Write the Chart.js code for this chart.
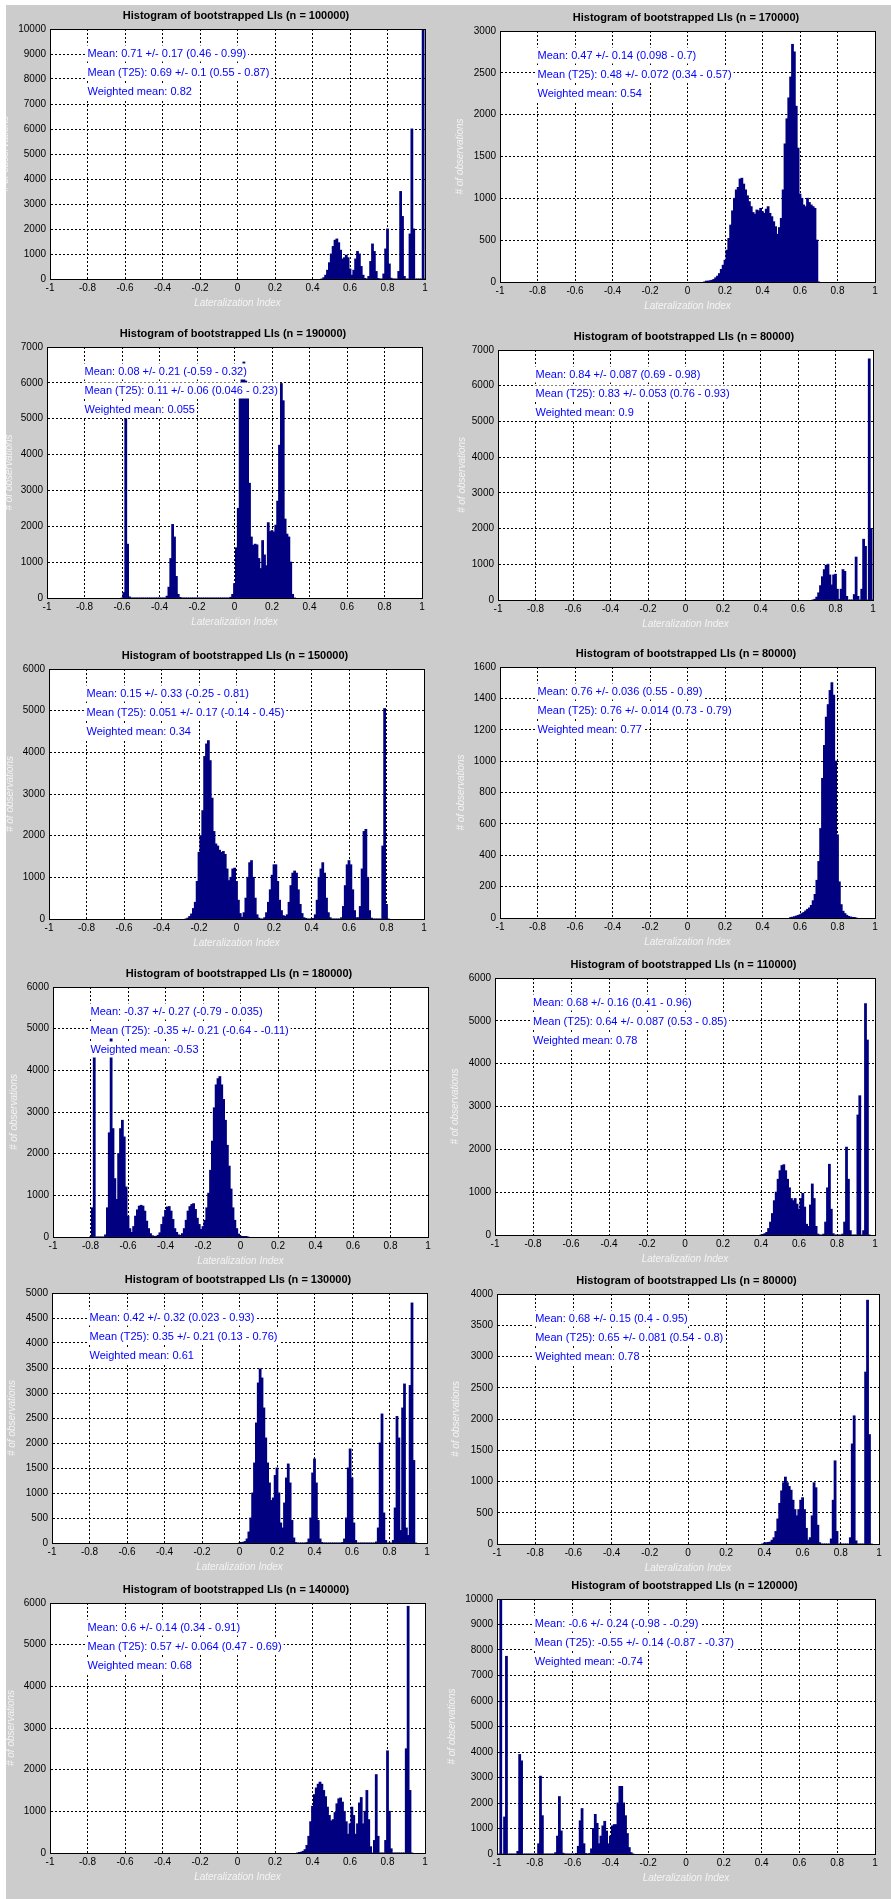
<!DOCTYPE html>
<html>
<head>
<meta charset="utf-8">
<script src="https://cdn.jsdelivr.net/npm/chart.js@4.4.1/dist/chart.umd.min.js"></script>
<style>
  html, body { margin: 0; padding: 0; background: #cccccc; }
  body { width: 891px; height: 1899px; position: relative; overflow: hidden; }
  canvas { position: absolute; }
  .edge { position: absolute; background: #ffffff; z-index: 5; }
</style>
</head>
<body>
<div class="edge" style="left:0;top:0;width:6px;height:1899px"></div>
<div class="edge" style="left:0;top:0;width:891px;height:5px"></div>
<script>
// ---- shared axis definitions ----
const xTickValues = [-1, -0.8, -0.6, -0.4, -0.2, 0, 0.2, 0.4, 0.6, 0.8, 1];
const xTickLabels = ['-1', '-0.8', '-0.6', '-0.4', '-0.2', '0', '0.2', '0.4', '0.6', '0.8', '1'];
const xAxisTitle = 'Lateralization Index';
const yAxisTitle = '# of observations';
const BIN = 0.01;

// ---- panel titles and summary lines ----
const sampleSizes = [100000, 170000, 190000, 80000, 150000, 80000, 180000, 110000, 130000, 80000, 140000, 120000];
const meanLines = [
  'Mean: 0.71 +/- 0.17 (0.46 - 0.99)', 'Mean: 0.47 +/- 0.14 (0.098 - 0.7)',
  'Mean: 0.08 +/- 0.21 (-0.59 - 0.32)', 'Mean: 0.84 +/- 0.087 (0.69 - 0.98)',
  'Mean: 0.15 +/- 0.33 (-0.25 - 0.81)', 'Mean: 0.76 +/- 0.036 (0.55 - 0.89)',
  'Mean: -0.37 +/- 0.27 (-0.79 - 0.035)', 'Mean: 0.68 +/- 0.16 (0.41 - 0.96)',
  'Mean: 0.42 +/- 0.32 (0.023 - 0.93)', 'Mean: 0.68 +/- 0.15 (0.4 - 0.95)',
  'Mean: 0.6 +/- 0.14 (0.34 - 0.91)', 'Mean: -0.6 +/- 0.24 (-0.98 - -0.29)'
];
const trimmedLines = [
  'Mean (T25): 0.69 +/- 0.1 (0.55 - 0.87)', 'Mean (T25): 0.48 +/- 0.072 (0.34 - 0.57)',
  'Mean (T25): 0.11 +/- 0.06 (0.046 - 0.23)', 'Mean (T25): 0.83 +/- 0.053 (0.76 - 0.93)',
  'Mean (T25): 0.051 +/- 0.17 (-0.14 - 0.45)', 'Mean (T25): 0.76 +/- 0.014 (0.73 - 0.79)',
  'Mean (T25): -0.35 +/- 0.21 (-0.64 - -0.11)', 'Mean (T25): 0.64 +/- 0.087 (0.53 - 0.85)',
  'Mean (T25): 0.35 +/- 0.21 (0.13 - 0.76)', 'Mean (T25): 0.65 +/- 0.081 (0.54 - 0.8)',
  'Mean (T25): 0.57 +/- 0.064 (0.47 - 0.69)', 'Mean (T25): -0.55 +/- 0.14 (-0.87 - -0.37)'
];
const weightedLines = [
  'Weighted mean: 0.82', 'Weighted mean: 0.54', 'Weighted mean: 0.055', 'Weighted mean: 0.9',
  'Weighted mean: 0.34', 'Weighted mean: 0.77', 'Weighted mean: -0.53', 'Weighted mean: 0.78',
  'Weighted mean: 0.61', 'Weighted mean: 0.78', 'Weighted mean: 0.68', 'Weighted mean: -0.74'
];

// ---- y tick labels per panel ----
const yTicks01 = [0, 1000, 2000, 3000, 4000, 5000, 6000, 7000, 8000, 9000, 10000];
const yTicks02 = [0, 500, 1000, 1500, 2000, 2500, 3000];
const yTicks03 = [0, 1000, 2000, 3000, 4000, 5000, 6000, 7000];
const yTicks04 = [0, 1000, 2000, 3000, 4000, 5000, 6000, 7000];
const yTicks05 = [0, 1000, 2000, 3000, 4000, 5000, 6000];
const yTicks06 = [0, 200, 400, 600, 800, 1000, 1200, 1400, 1600];
const yTicks07 = [0, 1000, 2000, 3000, 4000, 5000, 6000];
const yTicks08 = [0, 1000, 2000, 3000, 4000, 5000, 6000];
const yTicks09 = [0, 500, 1000, 1500, 2000, 2500, 3000, 3500, 4000, 4500, 5000];
const yTicks10 = [0, 500, 1000, 1500, 2000, 2500, 3000, 3500, 4000];
const yTicks11 = [0, 1000, 2000, 3000, 4000, 5000, 6000];
const yTicks12 = [0, 1000, 2000, 3000, 4000, 5000, 6000, 7000, 8000, 9000, 10000];

// ---- histogram counts (bin width 0.01, first bin centre given by start) ----
const start01 = 0.45;
const counts01 = [0,50,150,350,650,1000,1300,1550,1600,1450,
  1150,800,850,950,850,400,150,350,800,1100,
  1000,500,150,20,0,100,700,1400,1100,300,
  20,0,0,200,1200,2000,600,30,0,0,
  0,300,3500,2500,100,0,0,1800,6000,2000,
  0,0,0,0,10000,0];

const start02 = 0.09;
const counts02 = [0,10,10,15,20,30,50,70,100,150,
  200,260,380,520,680,850,1000,1100,1130,1230,
  1240,1170,1100,1030,960,900,830,810,860,850,
  880,840,820,870,900,820,780,720,660,570,
  650,760,1100,1650,1950,2200,2450,2840,2750,2100,
  1600,1050,1000,920,900,1000,950,920,900,880,
  500,0];

const start03 = -0.60;
const counts03 = [0,150,5000,1500,30,
  0,0,0,0,0,0,0,0,0,0,0,0,0,0,0,0,0,0,0,
  50,300,1100,2050,1700,600,100,10,
  0,0,0,0,0,0,0,0,0,0,0,0,0,0,0,0,0,0,0,0,0,0,0,0,0,0,
  20,100,400,1400,2500,
  5600,6400,6580,6050,5700,3200,1700,1470,1500,1480,
  1100,820,1600,1200,900,2100,1850,1880,1840,2030,
  2700,4260,5980,5500,2200,1780,1700,1000,100,0];

const start04 = 0.68;
const counts04 = [0,20,80,200,400,650,850,970,1000,700,
  420,700,720,300,20,300,850,800,100,0,
  0,0,150,1200,100,0,300,1700,1500,0,
  6750,2000,0];

const start05 = -0.27;
const counts05 = [0,20,60,120,250,400,900,1600,2000,2600,
  3900,4200,4280,3800,2900,2100,1800,1750,1650,1600,
  1620,1550,1200,920,1000,1200,1220,900,450,130,
  40,150,500,1000,1350,1400,1000,500,100,20,
  0,0,30,150,400,700,1050,1300,1300,900,
  450,200,80,60,100,400,800,1100,1150,1100,
  700,350,130,30,10,0,0,0,10,100,
  450,1000,1200,1350,1100,500,150,30,0,0,
  0,0,0,30,300,800,1300,1400,1300,700,
  200,30,30,300,1200,2100,2150,1000,200,20,
  0,0,0,0,0,1750,5050,350,0];

const start06 = 0.55;
const counts06 = [3,5,8,12,16,21,28,35,45,55,
  64,80,110,150,240,360,570,890,1100,1280,
  1360,1450,1500,1420,1000,530,230,85,43,28,
  17,10,6,4,2,0];

const start07 = -0.80;
const counts07 = [0,700,4500,0,0,0,0,0,50,
  700,2500,4900,2600,1400,900,2000,2600,2800,2400,
  1200,500,200,110,250,500,650,740,760,740,
  620,380,200,80,30,16,15,40,100,300,
  480,640,720,730,620,420,200,110,50,40,
  80,200,400,620,730,780,800,660,450,300,
  180,250,400,700,1050,1600,2300,3100,3650,3800,
  3850,3650,3300,2800,2200,1700,1150,700,400,200,
  70,20,10,5,3,0];

const start08 = 0.40;
const counts08 = [0,10,30,60,150,300,500,800,1000,1300,
  1500,1620,1640,1500,1300,1100,850,800,850,720,
  600,850,970,650,250,200,700,1190,850,200,
  20,0,0,20,300,1100,1650,600,30,0,
  0,0,0,20,300,2050,1300,100,0,0,
  0,2800,3250,0,100,5400,4550,0];

const start09 = 0.00;
const counts09 = [0,5,15,30,80,220,500,1000,1600,2400,
  3200,3480,3300,2700,2100,1600,1200,850,900,1350,
  1500,1000,400,300,800,1300,1580,1200,450,100,
  10,0,0,0,0,0,10,80,500,1400,
  1680,1200,450,80,10,0,0,0,0,0,
  0,0,0,0,0,10,80,500,1500,1880,
  1300,400,50,0,0,0,0,0,0,0,
  0,0,0,20,300,2000,2580,600,50,0,
  0,0,50,700,2530,2100,250,2700,3180,300,
  150,3150,4800,1650,0];

const start10 = 0.39;
const counts10 = [0,15,20,25,30,60,100,200,400,650,
  850,980,1070,980,920,860,700,550,450,550,
  700,740,550,250,60,100,450,980,900,300,
  20,0,0,0,0,0,80,700,1330,200,
  0,0,0,0,0,0,100,1600,2050,50,
  0,0,0,0,2750,3900,1750,0];

const start11 = 0.32;
const counts11 = [0,10,20,40,80,180,400,750,1120,1400,
  1560,1650,1700,1650,1500,1350,1100,900,770,800,
  970,1180,1300,1320,1220,1000,750,450,700,1100,
  900,450,700,1200,1330,700,1000,1500,800,150,
  0,300,1880,400,0,0,0,300,2450,1000,
  100,0,0,0,0,0,0,0,2500,5920,
  1500,0];

const start12 = -0.99;
const counts12 = [0,10000,0,1450,7750,0,0,0,0,0,
  100,3900,3650,0,0,0,0,0,0,0,
  0,400,3050,1500,0,0,0,0,0,0,
  50,700,2250,900,30,0,0,0,0,0,
  0,20,300,1300,1780,400,20,0,20,200,
  1000,1550,1200,400,700,1100,1280,900,400,700,
  1100,1150,1150,2000,2650,2650,2000,1500,800,250,
  50,0];

const starts = [start01, start02, start03, start04, start05, start06, start07, start08, start09, start10, start11, start12];
const counts = [counts01, counts02, counts03, counts04, counts05, counts06, counts07, counts08, counts09, counts10, counts11, counts12];
const yTicks = [yTicks01, yTicks02, yTicks03, yTicks04, yTicks05, yTicks06, yTicks07, yTicks08, yTicks09, yTicks10, yTicks11, yTicks12];

// ---- page layout: plot box of each axes in page pixels ----
const frames = [
  { colX: 0,   colW: 445, L: 50,  T: 29,   R: 425, B: 279,  yl: 45 },
  { colX: 445, colW: 446, L: 500, T: 31,   R: 875, B: 282,  yl: 40 },
  { colX: 0,   colW: 445, L: 47,  T: 347,  R: 422, B: 598,  yl: 38 },
  { colX: 445, colW: 446, L: 498, T: 350,  R: 873, B: 600,  yl: 36 },
  { colX: 0,   colW: 445, L: 49,  T: 669,  R: 424, B: 919,  yl: 39 },
  { colX: 445, colW: 446, L: 500, T: 667,  R: 875, B: 918,  yl: 39 },
  { colX: 0,   colW: 445, L: 53,  T: 987,  R: 428, B: 1237, yl: 39 },
  { colX: 445, colW: 446, L: 495, T: 978,  R: 875, B: 1235, yl: 40 },
  { colX: 0,   colW: 445, L: 52,  T: 1293, R: 427, B: 1543, yl: 40 },
  { colX: 445, colW: 446, L: 497, T: 1294, R: 879, B: 1544, yl: 41 },
  { colX: 0,   colW: 445, L: 50,  T: 1603, R: 425, B: 1853, yl: 39 },
  { colX: 445, colW: 446, L: 497, T: 1599, R: 875, B: 1854, yl: 45 }
];

const FONT = "'Liberation Sans', Arial, Helvetica, sans-serif";
const NAVY = '#000080';
const YW = 40, XH = 20, PAD_T = 40, PAD_B = 40;

function binPoints(start, values) {
  return values.map((c, i) => ({ x: Math.round((start + i * BIN) * 100) / 100, y: c }));
}

// White axes background, summary text boxes and labels
const panelDecor = {
  id: 'panelDecor',
  beforeDraw(chart) {
    const { ctx, chartArea: a } = chart;
    ctx.save();
    ctx.fillStyle = '#ffffff';
    ctx.fillRect(a.left, a.top, a.right - a.left, a.bottom - a.top);
    ctx.restore();
  },
  afterDatasetsDraw(chart, args, opts) {
    const k = opts.panel;
    const { ctx, chartArea: a, scales: { x } } = chart;
    const tx = x.getPixelForValue(-0.8);
    const lines = [meanLines[k], trimmedLines[k], weightedLines[k]];
    const offs = [24.5, 43.5, 62.5];
    ctx.save();
    ctx.font = '11px ' + FONT;
    ctx.textBaseline = 'middle';
    ctx.textAlign = 'left';
    lines.forEach((s, j) => {
      const cy = a.top + offs[j];
      const w = ctx.measureText(s).width;
      ctx.fillStyle = '#ffffff';
      ctx.fillRect(tx - 2, cy - 8, w + 4, 16);
      ctx.fillStyle = '#0000ff';
      ctx.fillText(s, tx, cy);
    });
    ctx.restore();
  },
  afterDraw(chart, args, opts) {
    const k = opts.panel;
    const { ctx, chartArea: a } = chart;
    ctx.save();
    // axes box
    const l = Math.round(a.left), t = Math.round(a.top), r = Math.round(a.right), b = Math.round(a.bottom);
    ctx.strokeStyle = '#000000';
    ctx.lineWidth = 1;
    ctx.setLineDash([]);
    ctx.strokeRect(l + 0.5, t + 0.5, r - l, b - t);
    const cx = (a.left + a.right) / 2;
    // title
    ctx.fillStyle = '#000000';
    ctx.font = 'bold 11px ' + FONT;
    ctx.textAlign = 'center';
    ctx.textBaseline = 'middle';
    ctx.fillText('Histogram of bootstrapped LIs (n = ' + sampleSizes[k] + ')', cx - 1.5, a.top - 12.7);
    // axis labels
    ctx.fillStyle = '#f4f4f4';
    ctx.font = 'italic 10px ' + FONT;
    ctx.fillText(xAxisTitle, cx, a.bottom + 24);
    ctx.translate(a.left - frames[k].yl, (a.top + a.bottom) / 2);
    ctx.rotate(-Math.PI / 2);
    ctx.fillText(yAxisTitle, 0, 0);
    ctx.restore();
  }
};

frames.forEach((f, k) => {
  const cv = document.createElement('canvas');
  const h = (f.B - f.T) + PAD_T + PAD_B;
  cv.width = f.colW; cv.height = h;
  cv.style.left = f.colX + 'px';
  cv.style.top = (f.T - PAD_T) + 'px';
  cv.style.width = f.colW + 'px';
  cv.style.height = h + 'px';
  document.body.appendChild(cv);

  const ticksY = yTicks[k];
  const gridOpts = { color: '#000000', lineWidth: 1, drawTicks: false, borderDash: [2, 2] };
  const borderOpts = { display: true, color: '#000000', width: 1, dash: [2, 2] };

  new Chart(cv, {
    type: 'bar',
    data: {
      datasets: [{
        data: binPoints(starts[k], counts[k]),
        backgroundColor: NAVY,
        borderWidth: 0,
        barPercentage: 1,
        categoryPercentage: 1,
        inflateAmount: 0.45,
        grouped: false
      }]
    },
    options: {
      responsive: false,
      animation: false,
      devicePixelRatio: 1,
      events: [],
      layout: {
        padding: {
          left: f.L - f.colX - YW,
          top: PAD_T,
          right: f.colX + f.colW - f.R,
          bottom: PAD_B - XH
        }
      },
      plugins: {
        legend: { display: false },
        tooltip: { enabled: false },
        title: { display: false },
        panelDecor: { panel: k }
      },
      scales: {
        x: {
          type: 'linear',
          min: -1, max: 1,
          offset: false,
          afterBuildTicks: s => { s.ticks = xTickValues.map(v => ({ value: v })); },
          afterFit: s => { s.height = XH; },
          ticks: {
            padding: 3, color: '#000000', autoSkip: false, maxRotation: 0,
            font: { family: FONT, size: 10 },
            callback: (v, i) => xTickLabels[i]
          },
          grid: Object.assign({ offset: false }, gridOpts),
          border: borderOpts
        },
        y: {
          type: 'linear',
          min: 0, max: ticksY[ticksY.length - 1],
          afterBuildTicks: s => { s.ticks = ticksY.map(v => ({ value: v })); },
          afterFit: s => { s.width = YW; },
          ticks: {
            padding: 4, color: '#000000', autoSkip: false,
            font: { family: FONT, size: 10 },
            callback: (v, i) => String(ticksY[i])
          },
          grid: gridOpts,
          border: borderOpts
        }
      }
    },
    plugins: [panelDecor]
  });
});
</script>
</body>
</html>
